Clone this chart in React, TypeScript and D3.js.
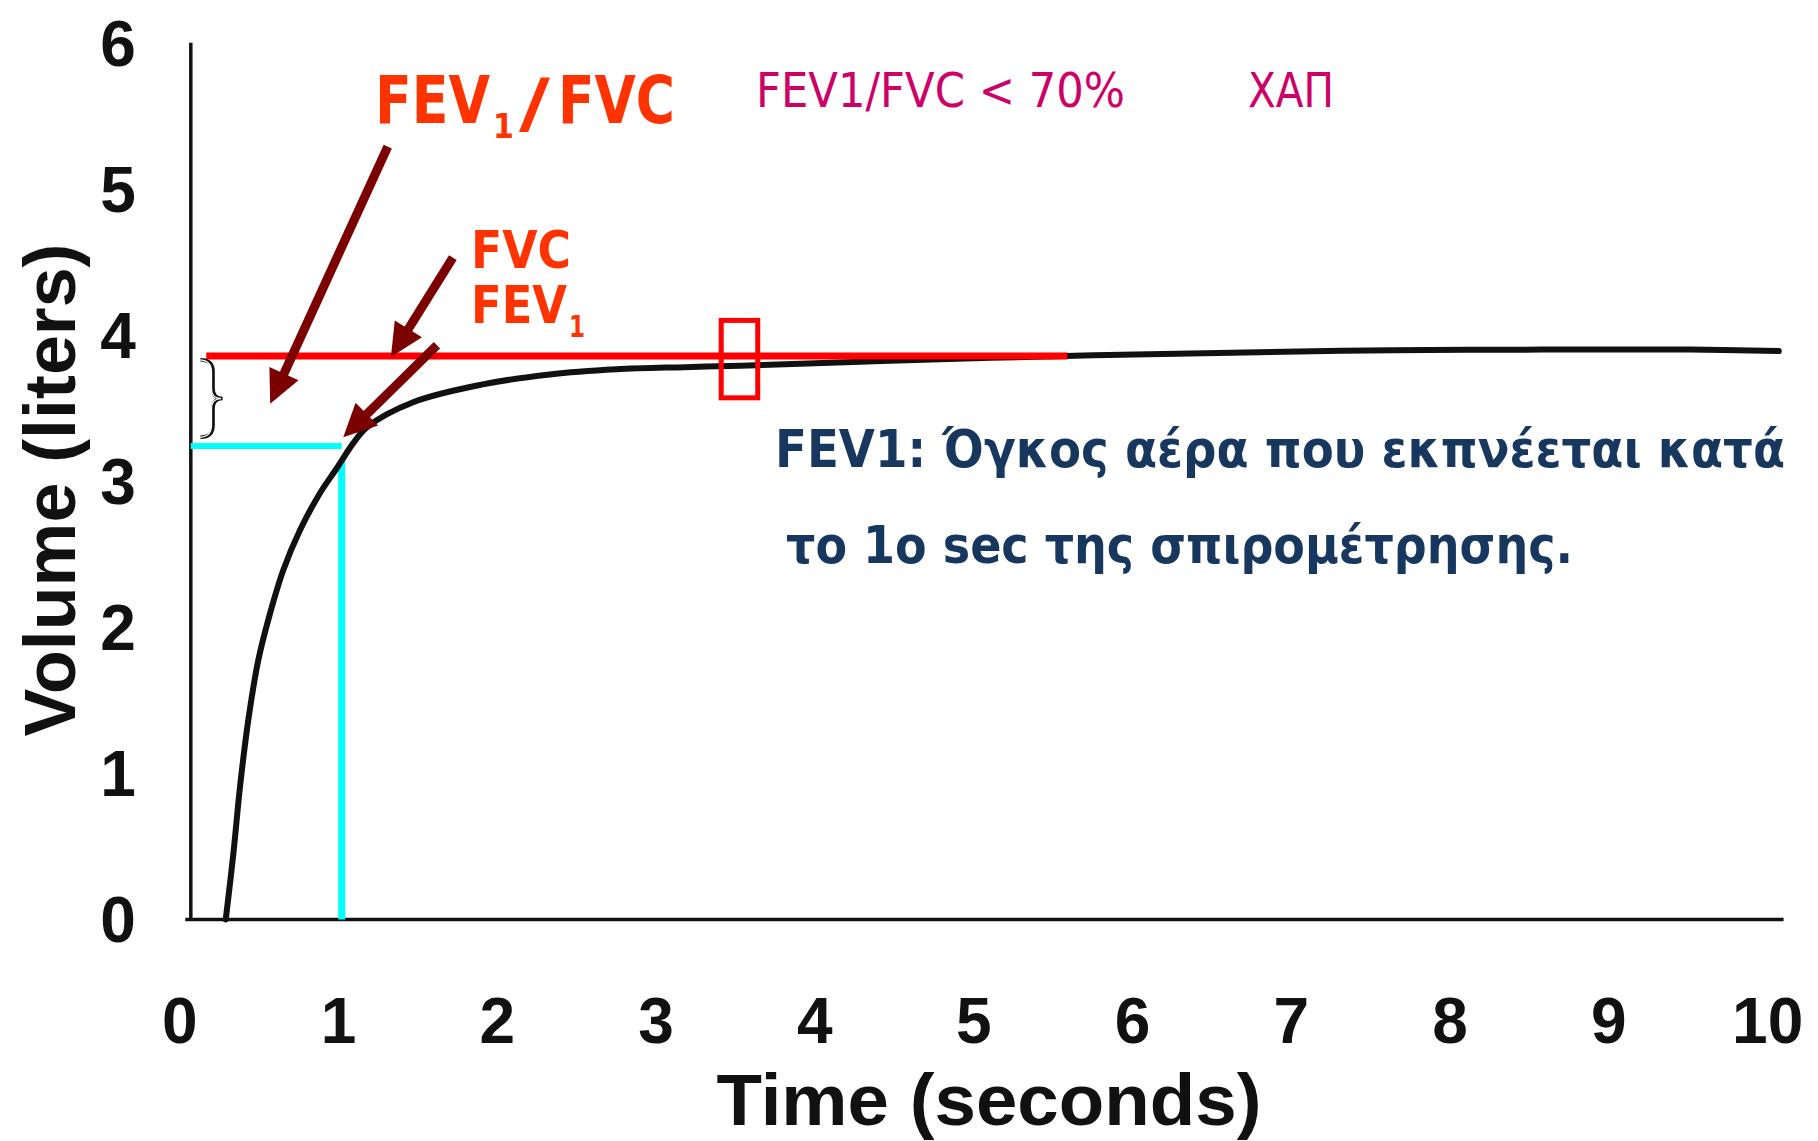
import React from 'react';
import * as d3 from 'd3';

// Spirometry volume-time curve
const timeSec = [0.29, 0.338, 0.38, 0.432, 0.495, 0.569, 0.652, 0.758, 0.883, 0.989, 1.093, 1.18, 1.47, 1.9, 2.33, 2.75, 3.18, 3.53, 4.37, 5.58, 6.71, 7.64, 8.58, 9.51, 10.07];
const volumeL = [0, 0.45, 0.91, 1.365, 1.775, 2.095, 2.39, 2.665, 2.917, 3.088, 3.26, 3.37, 3.54, 3.66, 3.73, 3.765, 3.78, 3.79, 3.82, 3.857, 3.88, 3.896, 3.9, 3.9, 3.89];

const xTicks = [0, 1, 2, 3, 4, 5, 6, 7, 8, 9, 10];
const yTicks = [0, 1, 2, 3, 4, 5, 6];

const fvcValue = 3.857; // FVC level (red line)
const fvcLineSpan = [0.167, 5.59];
const fev1Value = 3.24; // FEV1 level (cyan)
const fev1Time = 1.02;
const fev1CurveAt = 3.14;
const markerBox = { t0: 3.41, t1: 3.64, v0: 3.57, v1: 4.1 };

// arrows: [tailT, tailV, tipT, tipV]
const arrows = [
  [1.31, 5.29, 0.57, 3.53],
  [1.72, 4.53, 1.33, 3.85],
  [1.62, 3.93, 1.03, 3.3],
];

const W = 1818;
const H = 1141;

const x = d3.scaleLinear().domain([0, 10]).range([179.7, 1767.7]);
const y = d3.scaleLinear().domain([0, 6]).range([919.4, 42.8]);

function Arrow({ a }: { a: number[] }) {
  const [t0, v0, t1, v1] = a;
  const x0 = x(t0), y0 = y(v0), x1 = x(t1), y1 = y(v1);
  const dx = x1 - x0, dy = y1 - y0;
  const len = Math.hypot(dx, dy);
  const ux = dx / len, uy = dy / len;
  const headL = 33, headW = 16;
  const bx = x1 - ux * headL, by = y1 - uy * headL;
  const px = -uy, py = ux;
  const head = `M${x1},${y1}L${bx + px * headW},${by + py * headW}L${bx - px * headW},${by - py * headW}Z`;
  return (
    <g>
      <line x1={x0} y1={y0} x2={bx + ux * 4} y2={by + uy * 4} stroke="#7B0000" strokeWidth={9} />
      <path d={head} fill="#7B0000" />
    </g>
  );
}

export default function App() {
  const line = d3
    .line<number>()
    .x((_, i) => x(timeSec[i]))
    .y((d) => y(d))
    .curve(d3.curveCatmullRom.alpha(0.5));

  // curly brace between FEV1 and FVC levels
  const bl = x(0.13), bm = x(0.21), br = x(0.27);
  const bt = y(3.83), bb = y(3.3), bc = (bt + bb) / 2;
  const brace = `M${bl},${bt} Q${bm},${bt} ${bm},${bt + 12} L${bm},${bc - 10} Q${bm},${bc} ${br},${bc} Q${bm},${bc} ${bm},${bc + 10} L${bm},${bb - 12} Q${bm},${bb} ${bl},${bb}`;

  const tickFont = "'Liberation Sans', Arial, sans-serif";
  const annFont = "'DejaVu Sans', Verdana, sans-serif";

  return (
    <svg
      width={W}
      height={H}
      viewBox={`0 0 ${W} ${H}`}
      style={{ position: 'absolute', left: 0, top: 0, background: '#fff' }}
    >
      <rect x={0} y={0} width={W} height={H} fill="#fff" />

      {/* axes */}
      <line x1={x(0.07)} y1={y(6.0)} x2={x(0.07)} y2={y(0)} stroke="#111" strokeWidth={3.5} />
      <line x1={x(0.035)} y1={y(0)} x2={x(10.1)} y2={y(0)} stroke="#111" strokeWidth={3.5} />

      {/* tick labels */}
      {yTicks.map((v) => (
        <text key={'y' + v} x={118} y={y(v) + 23} textAnchor="middle" fontFamily={tickFont} fontWeight="bold" fontSize={64} fill="#111">
          {v}
        </text>
      ))}
      {xTicks.map((t) => (
        <text key={'x' + t} x={x(t)} y={1043} textAnchor="middle" fontFamily={tickFont} fontWeight="bold" fontSize={64} fill="#111">
          {t}
        </text>
      ))}

      {/* axis titles */}
      <text
        transform="translate(75,490) rotate(-90)"
        textAnchor="middle"
        fontFamily={tickFont}
        fontWeight="bold"
        fontSize={72}
        fill="#111"
        textLength={493}
        lengthAdjust="spacingAndGlyphs"
      >
        Volume (liters)
      </text>
      <text x={989} y={1125} textAnchor="middle" fontFamily={tickFont} fontWeight="bold" fontSize={72} fill="#111" textLength={545} lengthAdjust="spacingAndGlyphs">
        Time (seconds)
      </text>

      {/* cyan FEV1 guides */}
      <line x1={x(0.07)} y1={y(fev1Value)} x2={x(fev1Time)} y2={y(fev1Value)} stroke="#00FFFF" strokeWidth={6} />
      <line x1={x(fev1Time)} y1={y(fev1CurveAt)} x2={x(fev1Time)} y2={y(0)} stroke="#00FFFF" strokeWidth={7} />

      {/* curve */}
      <path d={line(volumeL) || ''} fill="none" stroke="#111" strokeWidth={6} strokeLinecap="round" strokeLinejoin="round" />

      {/* red FVC line */}
      <line x1={x(fvcLineSpan[0])} y1={y(fvcValue)} x2={x(fvcLineSpan[1])} y2={y(fvcValue)} stroke="#FF0000" strokeWidth={7} />

      {/* red marker box */}
      <rect
        x={x(markerBox.t0)}
        y={y(markerBox.v1)}
        width={x(markerBox.t1) - x(markerBox.t0)}
        height={y(markerBox.v0) - y(markerBox.v1)}
        fill="none"
        stroke="#FF0000"
        strokeWidth={5}
      />

      {/* brace */}
      <path d={brace} fill="none" stroke="#111" strokeWidth={3.5} />
      <path d={brace} fill="none" stroke="#fff" strokeWidth={1.2} transform="translate(-1.5,0)" />

      {/* arrows */}
      {arrows.map((a, i) => (
        <Arrow key={i} a={a} />
      ))}

      {/* FEV1/FVC heading */}
      <g fontFamily={annFont} fontWeight="bold" fill="#FF3300">
        <text x={375} y={123} fontSize={66} textLength={115} lengthAdjust="spacingAndGlyphs">FEV</text>
        <text x={493} y={138} fontSize={34} textLength={21} lengthAdjust="spacingAndGlyphs">1</text>
        <text x={519} y={126} fontSize={66} textLength={31} lengthAdjust="spacingAndGlyphs">/</text>
        <text x={558} y={123} fontSize={66} textLength={117} lengthAdjust="spacingAndGlyphs">FVC</text>

        <text x={471} y={268} fontSize={52} textLength={100} lengthAdjust="spacingAndGlyphs">FVC</text>
        <text x={471} y={323} fontSize={52} textLength={96} lengthAdjust="spacingAndGlyphs">FEV</text>
        <text x={569} y={337} fontSize={30} textLength={16} lengthAdjust="spacingAndGlyphs">1</text>
      </g>

      {/* magenta note */}
      <g fontFamily={annFont} fill="#CC0066" fontSize={48}>
        <text x={756} y={107} textLength={369} lengthAdjust="spacingAndGlyphs">FEV1/FVC &lt; 70%</text>
        <text x={1248} y={107} textLength={86} lengthAdjust="spacingAndGlyphs">ΧΑΠ</text>
      </g>

      {/* navy description */}
      <g fontFamily={annFont} fontWeight="bold" fill="#17375E" fontSize={52}>
        <text x={775} y={467} textLength={1010} lengthAdjust="spacingAndGlyphs">FEV1: Όγκος αέρα που εκπνέεται κατά</text>
        <text x={786} y={563} textLength={787} lengthAdjust="spacingAndGlyphs">το 1ο sec της σπιρομέτρησης.</text>
      </g>
    </svg>
  );
}
